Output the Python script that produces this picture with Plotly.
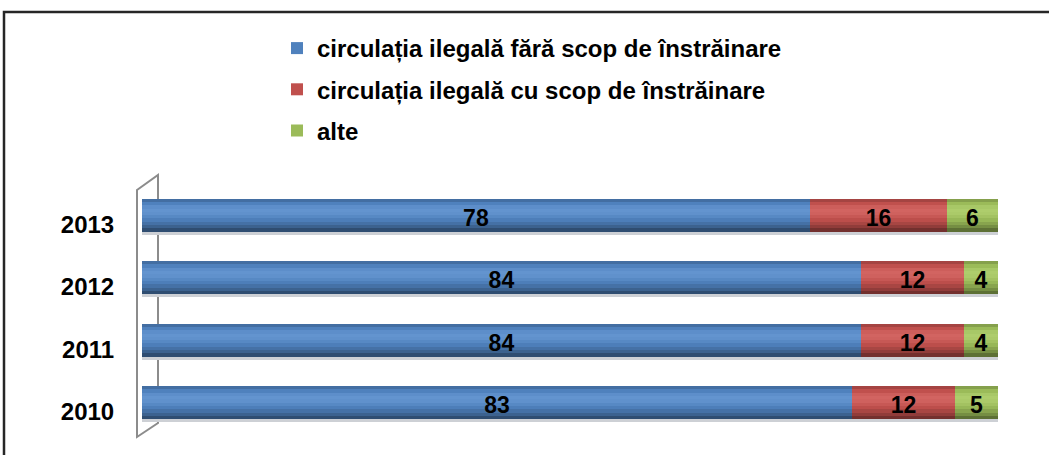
import plotly.graph_objects as go

years = ["2010", "2011", "2012", "2013"]
fara_scop = [83, 84, 84, 78]
cu_scop = [12, 12, 12, 16]
alte = [5, 4, 4, 6]
series_names = [
    "circulația ilegală fără scop de înstrăinare",
    "circulația ilegală cu scop de înstrăinare",
    "alte",
]
series_values = [fara_scop, cu_scop, alte]
base_colors = ["#4F81BD", "#C0504D", "#9BBB59"]

# brightness profile of the cylinder, top -> bottom (styling only)
profile = [0.86, 1.0, 1.1, 1.14, 1.12, 1.06, 0.98, 0.88, 0.76, 0.6]
LEGEND_BAND = 1  # band whose colour equals the base colour


def shade(hex_color, f):
    h = hex_color.lstrip("#")
    r, g, b = (int(h[i:i + 2], 16) for i in (0, 2, 4))
    if f >= 1:
        t = min((f - 1) * 1.0, 1)
        r, g, b = (c + (255 - c) * t * 0.55 for c in (r, g, b))
        r, g, b = (min(255, c * (1 + (f - 1) * 0.5)) for c in (r, g, b))
    else:
        r, g, b = (c * f for c in (r, g, b))
    return "#%02X%02X%02X" % (int(r), int(g), int(b))


FONT = "Liberation Sans, Arial, sans-serif"
fig = go.Figure()

HALF = 0.265
nb = len(profile)
bw = 2 * HALF / nb
cum = [0] * len(years)
for si, (name, vals) in enumerate(zip(series_names, series_values)):
    base = list(cum)
    # soft floor shadow under the cylinder
    fig.add_trace(go.Bar(
        y=years, x=vals, base=base, orientation="h", name=name,
        legendgroup=name, showlegend=False,
        width=0.05, offset=-HALF - 0.05,
        marker=dict(color="#CDD0D5", line=dict(width=0)), hoverinfo="skip",
    ))
    for k, f in enumerate(profile):
        top = HALF - k * bw
        fig.add_trace(go.Bar(
            y=years, x=vals, base=base, orientation="h",
            name=name, legendgroup=name,
            showlegend=(k == LEGEND_BAND),
            width=bw + 0.004, offset=top - bw - 0.002,
            marker=dict(color=base_colors[si] if k == LEGEND_BAND else shade(base_colors[si], f),
                        line=dict(width=0)),
            hoverinfo="skip",
        ))
    # transparent text-only bar on top
    fig.add_trace(go.Bar(
        y=years, x=vals, base=base, orientation="h",
        name=name, legendgroup=name, showlegend=False,
        width=0.53, offset=-0.3,
        marker=dict(color="rgba(0,0,0,0)", line=dict(width=0)),
        text=[str(v) for v in vals], textposition="inside",
        insidetextanchor="middle", textangle=0, constraintext="none",
        textfont=dict(family=FONT, size=23, color="black", weight="bold"),
        hoverinfo="skip",
    ))
    cum = [c + v for c, v in zip(cum, vals)]

FW, FH = 1049, 455
L, R, T, B = 142, 51, 184, 21
W = FW - L - R
H = FH - T - B


def px(x):
    return (x - L) / W


def py(y):
    return (FH - B - y) / H


shapes = [
    # outer chart border
    dict(type="rect", xref="paper", yref="paper",
         x0=px(4), x1=px(1070), y0=py(480), y1=py(12),
         line=dict(color="#262626", width=2.5), fillcolor="rgba(0,0,0,0)", layer="below"),
    # 3D side wall frame
    dict(type="path", xref="paper", yref="paper",
         path=f"M {px(137)},{py(190)} L {px(158)},{py(175)} L {px(158)},{py(423)} "
              f"L {px(137)},{py(437)} Z",
         line=dict(color="#8C8C8C", width=2), fillcolor="rgba(0,0,0,0)", layer="below"),
]

fig.update_layout(
    width=FW, height=FH,
    margin=dict(l=L, r=R, t=T, b=B, pad=0),
    paper_bgcolor="white", plot_bgcolor="white",
    barmode="overlay",
    bargap=0,
    shapes=shapes,
    font=dict(family=FONT, size=18, color="black"),
    legend=dict(
        x=px(277), y=py(26), xanchor="left", yanchor="top",
        orientation="v", traceorder="grouped", tracegroupgap=7,
        font=dict(family=FONT, size=24, color="black", weight="bold"),
        bgcolor="rgba(0,0,0,0)", itemwidth=30,
    ),
    xaxis=dict(range=[0, 100], showgrid=False, zeroline=False, showticklabels=False,
               showline=False, fixedrange=True),
    yaxis=dict(type="category", categoryorder="array", categoryarray=years,
               range=[-0.5, 3.5], showgrid=False, zeroline=False, showline=False,
               ticks="outside", ticklen=22, tickcolor="rgba(0,0,0,0)",
               tickfont=dict(family=FONT, size=24, color="black", weight="bold"),
               ticklabelshift=9, fixedrange=True),
    showlegend=True,
)

fig.write_html("out.html", config={"displayModeBar": False},
               post_script="document.body.style.margin='0px';")
